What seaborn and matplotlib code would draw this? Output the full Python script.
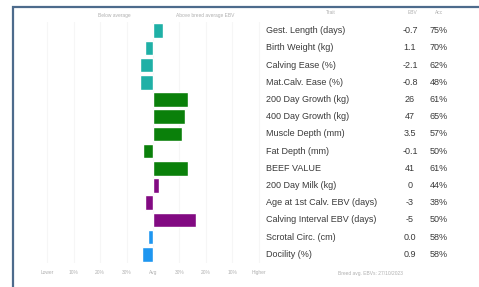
import numpy as np
import pandas as pd
import seaborn as sns
import matplotlib
matplotlib.use("Agg")
import matplotlib.pyplot as plt
from matplotlib.transforms import blended_transform_factory
from matplotlib.patches import Rectangle

# =============================
# DADOS
# =============================

caracteristicas = [
    "Gest. Length (days)", "Birth Weight (kg)", "Calving Ease (%)",
    "Mat.Calv. Ease (%)", "200 Day Growth (kg)", "400 Day Growth (kg)",
    "Muscle Depth (mm)", "Fat Depth (mm)", "BEEF VALUE", "200 Day Milk (kg)",
    "Age at 1st Calv. EBV (days)", "Calving Interval EBV (days)",
    "Scrotal Circ. (cm)", "Docility (%)",
]
grupos = [
    "calving", "calving", "calving", "calving",
    "growth", "growth", "growth", "growth", "growth",
    "fertility", "fertility", "fertility",
    "other", "other",
]
posicao = [3.8, -3.0, -4.9, -4.9, 13.2, 12.1, 10.9, -3.8, 13.2, 2.3, -3.0, 16.2, -1.9, -4.2]
ebv = ["-0.7", "1.1", "-2.1", "-0.8", "26", "47", "3.5", "-0.1", "41", "0", "-3", "-5", "0.0", "0.9"]
acc = ["75%", "70%", "62%", "48%", "61%", "65%", "57%", "50%", "61%", "44%", "38%", "50%", "58%", "58%"]

ticks = [-40, -30, -20, -10, 0, 10, 20, 30, 40]
tick_labels = ["Lower", "10%", "20%", "30%", "Avg", "30%", "20%", "10%", "Higher"]

cores = {"calving": "#1fb0a6", "growth": "#0a800a", "fertility": "#820a82", "other": "#1e96f0"}

df = pd.DataFrame({"trait": caracteristicas, "grupo": grupos, "pos": posicao})

# =============================
# PLOT
# =============================

sns.set_theme(style="white")
plt.rcParams["font.family"] = ["Liberation Sans", "DejaVu Sans"]

fig = plt.figure(figsize=(4.79, 2.87), dpi=100)
ax = fig.add_axes([34 / 479, 1 - 263 / 287, 238 / 479, 241 / 287])

sns.barplot(data=df, x="pos", y="trait", hue="grupo", palette=cores, saturation=1,
            dodge=False, width=0.85, legend=False, ax=ax, orient="h")

ax.set_xlim(-45, 45)
ax.set_ylim(len(caracteristicas) - 0.5, -0.5)
ax.set_xticks(ticks)
ax.set_xticklabels(tick_labels, fontsize=3.5, color="#b0b0b0")
ax.tick_params(axis="x", length=0, pad=5)
ax.set_yticks([])
ax.set_xlabel("")
ax.set_ylabel("")
for s in ax.spines.values():
    s.set_visible(False)
ax.grid(axis="x", color="#f6f6f6", linewidth=0.8)
ax.set_axisbelow(True)

# colunas de texto a direita
trans = blended_transform_factory(fig.transFigure, ax.transData)
for i, nome in enumerate(caracteristicas):
    ax.text(266 / 479, i, nome, transform=trans, fontsize=6.5, color="#3a3a3a",
            ha="left", va="center", clip_on=False)
    ax.text(410 / 479, i, ebv[i], transform=trans, fontsize=6.5, color="#3a3a3a",
            ha="center", va="center", clip_on=False)
    ax.text(439 / 479, i, acc[i], transform=trans, fontsize=6.5, color="#3a3a3a",
            ha="center", va="center", clip_on=False)

# cabecalhos
fig.text(114 / 479, 1 - 15 / 287, "Below average", fontsize=3.5, color="#b0b0b0", ha="center", va="center")
fig.text(205 / 479, 1 - 15 / 287, "Above breed average EBV", fontsize=3.5, color="#b0b0b0", ha="center", va="center")
fig.text(331 / 479, 1 - 13 / 287, "Trait", fontsize=3.5, color="#b0b0b0", ha="center", va="center")
fig.text(413 / 479, 1 - 13 / 287, "EBV", fontsize=3.5, color="#b0b0b0", ha="center", va="center")
fig.text(439 / 479, 1 - 13 / 287, "Acc", fontsize=3.5, color="#b0b0b0", ha="center", va="center")
fig.text(370 / 479, 1 - 273 / 287, "Breed avg. EBVs: 27/10/2023", fontsize=3.5, color="#b0b0b0",
         ha="center", va="center")

# moldura
fig.patches.append(Rectangle((12.5 / 479, -0.2), 1.2, 1.2 - 7 / 287, transform=fig.transFigure,
                             fill=False, edgecolor="#4d6b8c", linewidth=1.6))

fig.savefig("out.png", dpi=100, facecolor="white")
